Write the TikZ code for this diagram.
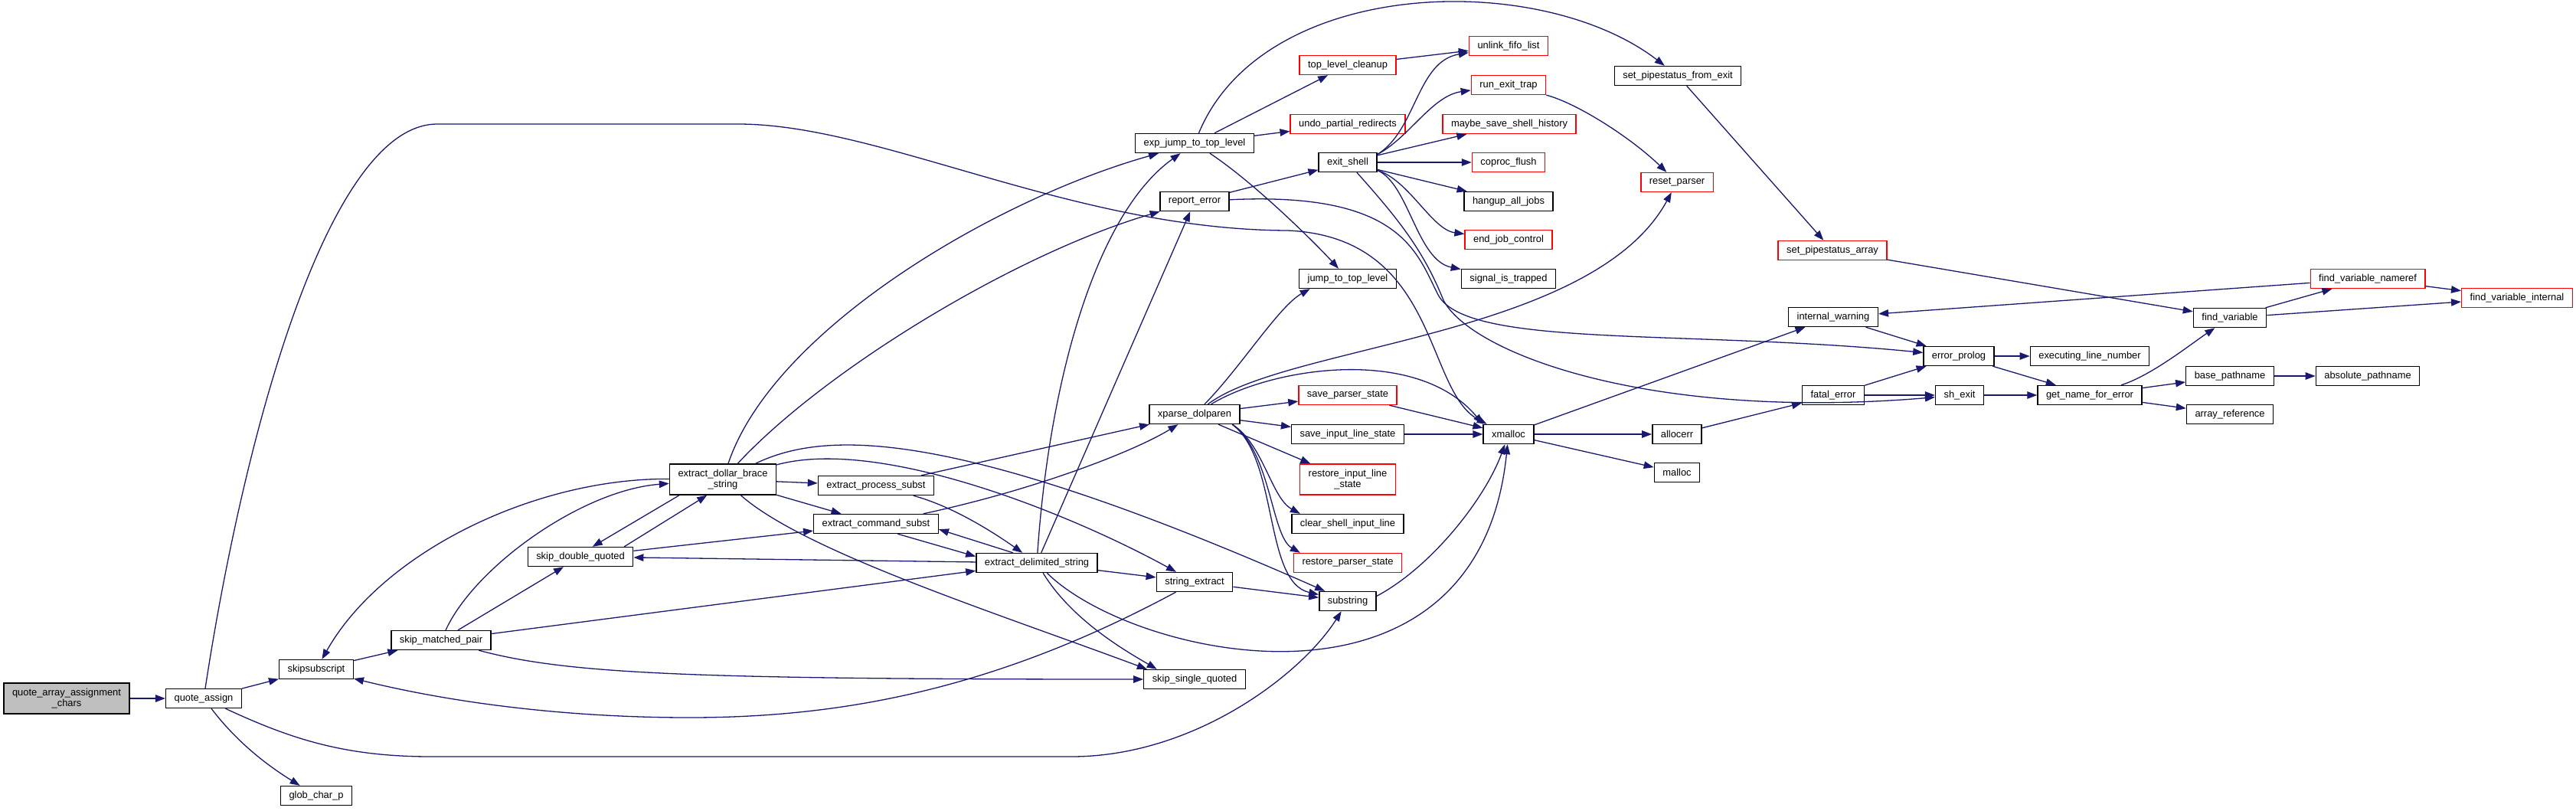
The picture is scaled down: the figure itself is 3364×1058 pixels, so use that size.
\documentclass[tikz,border=0pt]{standalone}
\usepackage{fontspec}
\setmainfont{Liberation Sans}
\usepackage{xcolor}
\usetikzlibrary{arrows.meta}

\definecolor{edgeblue}{RGB}{25,25,112}
\definecolor{rootgrey}{RGB}{191,191,191}

\begin{document}
\begin{tikzpicture}[x=1pt, y=-1pt,
    func/.style={draw=black, line width=1.4pt, fill=white, inner xsep=11pt, inner ysep=0pt,
                 minimum height=25pt, font=\fontsize{12.9}{14.5}\selectfont},
    trunc/.style={func, draw=red},
    root/.style={func, fill=rootgrey},
    twoline/.style={align=center, minimum height=40pt},
    call/.style={draw=edgeblue, line width=1.3pt, -{Triangle[length=13pt,width=9.5pt]}}]

    \useasboundingbox (0,0) rectangle (3364,1058);
    \fill[white] (0,0) rectangle (3364,1058);

    % Caller
    \node[root, twoline] (qaac) at (87,912) {quote\_array\_assignment\\\_chars};
    \node[func] (qassign) at (266,912) {quote\_assign};
    \node[func] (skipsub) at (413,874) {skipsubscript};
    \node[func] (gcp) at (413,1039) {glob\_char\_p};
    \node[func] (smp) at (576,836) {skip\_matched\_pair};
    \node[func] (sdq) at (758,727) {skip\_double\_quoted};

    % Extraction
    \node[func, twoline] (edbs) at (944,626) {extract\_dollar\_brace\\\_string};
    \node[func] (eps) at (1144,634) {extract\_process\_subst};
    \node[func] (ecs) at (1144,684) {extract\_command\_subst};
    \node[func] (eds) at (1354,735) {extract\_delimited\_string};
    \node[func] (strext) at (1560,760) {string\_extract};
    \node[func] (ssq) at (1560,887) {skip\_single\_quoted};
    \node[func] (xpd) at (1560,541) {xparse\_dolparen};
    \node[func] (ejtl) at (1560,187) {exp\_jump\_to\_top\_level};
    \node[func] (reperr) at (1560,263) {report\_error};

    % Shell exit
    \node[trunc] (tlc) at (1760,85) {top\_level\_cleanup};
    \node[trunc] (upr) at (1760,162) {undo\_partial\_redirects};
    \node[func] (exsh) at (1760,212) {exit\_shell};
    \node[func] (jttl) at (1760,364) {jump\_to\_top\_level};
    \node[trunc] (ufl) at (1970,60) {unlink\_fifo\_list};
    \node[trunc] (ret) at (1970,111) {run\_exit\_trap};
    \node[trunc] (mssh) at (1971,162) {maybe\_save\_shell\_history};
    \node[trunc] (cpf) at (1970,212) {coproc\_flush};
    \node[func] (haj) at (1970,263) {hangup\_all\_jobs};
    \node[trunc] (ejc) at (1970,313) {end\_job\_control};
    \node[func] (sit) at (1970,364) {signal\_is\_trapped};
    \node[trunc] (rp) at (2190,238) {reset\_parser};
    \node[func] (spfe) at (2191,99) {set\_pipestatus\_from\_exit};
    \node[trunc] (spa) at (2393,327) {set\_pipestatus\_array};

    % Parser state
    \node[trunc] (sps) at (1760,516) {save\_parser\_state};
    \node[func] (sils) at (1760,567) {save\_input\_line\_state};
    \node[trunc, twoline] (rils) at (1760,626) {restore\_input\_line\\\_state};
    \node[func] (csil) at (1760,684) {clear\_shell\_input\_line};
    \node[trunc] (rps) at (1760,735) {restore\_parser\_state};
    \node[func] (subs) at (1760,785) {substring};
    \node[func] (xm) at (1970,567) {xmalloc};
    \node[func] (ac) at (2190,567) {allocerr};
    \node[func] (ml) at (2190,617) {malloc};

    % Error reporting
    \node[func] (iw) at (2394,414) {internal\_warning};
    \node[func] (fe) at (2394,516) {fatal\_error};
    \node[func] (ep) at (2558,465) {error\_prolog};
    \node[func] (she) at (2559,516) {sh\_exit};
    \node[func] (eln) at (2729,465) {executing\_line\_number};
    \node[func] (gnfe) at (2729,516) {get\_name\_for\_error};
    \node[func] (fv) at (2912,415) {find\_variable};
    \node[func] (bp) at (2912,491) {base\_pathname};
    \node[func] (ar) at (2912,541) {array\_reference};
    \node[trunc] (fvn) at (3092,364) {find\_variable\_nameref};
    \node[func] (ap) at (3092,491) {absolute\_pathname};
    \node[trunc] (fvi) at (3287,389) {find\_variable\_internal};

    % Calls from quote_assign
    \draw[call] (qaac) -- (qassign);
    \draw[call] (qassign) -- (skipsub);
    \draw[call] (qassign) .. controls (310,970) and (350,1000) .. (gcp);
    \draw[call] (qassign) .. controls (380,965) and (450,988) .. (563,988) -- (1399,988)
        .. controls (1560,988) and (1700,880) .. (subs);
    \draw[call] (qassign) .. controls (320,560) and (430,162) .. (571,162) -- (964,162)
        .. controls (1150,162) and (1400,300) .. (1682,301)
        .. controls (1880,310) and (1860,510) .. (xm.155);

    % skipsubscript, skip_matched_pair, skip_double_quoted
    \draw[call] (skipsub) -- (smp);
    \draw[call] (smp) -- (sdq);
    \draw[call] (smp) .. controls (620,740) and (760,640) .. (edbs);
    \draw[call] (smp) -- (eds);
    \draw[call] (smp) .. controls (740,880) and (900,887) .. (ssq);
    \draw[call] (sdq.13) -- (edbs.225);
    \draw[call] (sdq) -- (ecs);

    % extract_dollar_brace_string
    \draw[call] (edbs) .. controls (700,624) and (500,720) .. (skipsub);
    \draw[call] (edbs.200) -- (sdq.40);
    \draw[call] (edbs) -- (eps);
    \draw[call] (edbs) -- (ecs);
    \draw[call] (edbs) .. controls (1010,430) and (1300,260) .. (ejtl);
    \draw[call] (edbs) .. controls (1080,480) and (1330,330) .. (reperr);
    \draw[call] (edbs) .. controls (1080,560) and (1250,560) .. (subs);
    \draw[call] (edbs) .. controls (1150,570) and (1400,672) .. (strext);
    \draw[call] (edbs) .. controls (1050,720) and (1300,800) .. (ssq.168);

    % extract_process_subst, extract_command_subst, extract_delimited_string
    \draw[call] (eps) -- (xpd);
    \draw[call] (eps) .. controls (1240,660) and (1290,690) .. (eds);
    \draw[call] (ecs) .. controls (1350,640) and (1480,590) .. (xpd);
    \draw[call] (ecs.-25) -- (eds.174);
    \draw[call] (eds.157) -- (ecs.-5);
    \draw[call] (eds) -- (sdq);
    \draw[call] (eds) .. controls (1370,500) and (1430,280) .. (ejtl);
    \draw[call] (eds) -- (reperr);
    \draw[call] (eds) -- (strext);
    \draw[call] (eds) .. controls (1400,810) and (1470,850) .. (ssq.165);
    \draw[call] (eds) .. controls (1480,860) and (1930,960) .. (xm);
    \draw[call] (strext) .. controls (1300,900) and (1100,937) .. (900,937)
        .. controls (750,937) and (600,920) .. (skipsub);
    \draw[call] (strext) -- (subs);

    % xparse_dolparen
    \draw[call] (xpd) .. controls (1620,480) and (1670,400) .. (jttl.195);
    \draw[call] (xpd) .. controls (1680,450) and (2080,440) .. (rp);
    \draw[call] (xpd) .. controls (1660,480) and (1850,450) .. (xm.north west);
    \draw[call] (xpd) -- (sps);
    \draw[call] (xpd) -- (sils);
    \draw[call] (xpd) -- (rils);
    \draw[call] (xpd.-15) .. controls (1650,580) and (1660,650) .. (csil.168);
    \draw[call] (xpd.-15) .. controls (1660,590) and (1660,700) .. (rps.168);
    \draw[call] (xpd.-15) .. controls (1670,600) and (1650,760) .. (subs);

    % xmalloc and its callers
    \draw[call] (subs.10) .. controls (1870,740) and (1940,650) .. (xm);
    \draw[call] (sps) -- (xm);
    \draw[call] (sils) -- (xm);
    \draw[call] (xm) -- (ac);
    \draw[call] (xm) -- (ml);
    \draw[call] (xm) -- (iw);
    \draw[call] (ac) -- (fe);

    % exp_jump_to_top_level
    \draw[call] (ejtl) .. controls (1650,-30) and (2010,-40) .. (spfe);
    \draw[call] (ejtl) -- (tlc);
    \draw[call] (ejtl) -- (upr);
    \draw[call] (ejtl) .. controls (1640,240) and (1720,320) .. (jttl);

    % report_error and exit_shell
    \draw[call] (reperr) -- (exsh);
    \draw[call] (reperr) .. controls (1830,250) and (1850,330) .. (1878,385)
        .. controls (1915,455) and (2200,430) .. (ep);
    \draw[call] (exsh.15) .. controls (1850,170) and (1850,80) .. (ufl);
    \draw[call] (exsh.15) .. controls (1840,180) and (1870,125) .. (ret);
    \draw[call] (exsh) -- (mssh);
    \draw[call] (exsh) -- (cpf);
    \draw[call] (exsh) -- (haj);
    \draw[call] (exsh.-15) .. controls (1840,235) and (1870,300) .. (ejc);
    \draw[call] (exsh.-15) .. controls (1840,240) and (1850,340) .. (sit);
    \draw[call] (exsh) .. controls (1830,290) and (1860,330) .. (1885,392)
        .. controls (1920,460) and (2150,550) .. (she);
    \draw[call] (tlc) -- (ufl);
    \draw[call] (ret) .. controls (2060,135) and (2130,180) .. (rp);
    \draw[call] (spfe) -- (spa);
    \draw[call] (spa) -- (fv);

    % Error reporting
    \draw[call] (iw) -- (ep);
    \draw[call] (fe) -- (ep);
    \draw[call] (fe) -- (she);
    \draw[call] (fvn) -- (iw);
    \draw[call] (ep) -- (eln);
    \draw[call] (ep) -- (gnfe);
    \draw[call] (she) -- (gnfe);
    \draw[call] (gnfe) .. controls (2810,490) and (2860,450) .. (fv);
    \draw[call] (gnfe) -- (bp);
    \draw[call] (gnfe) -- (ar);
    \draw[call] (bp) -- (ap);
    \draw[call] (fv) -- (fvn);
    \draw[call] (fv) -- (fvi);
    \draw[call] (fvn) -- (fvi);
\end{tikzpicture}
\end{document}
